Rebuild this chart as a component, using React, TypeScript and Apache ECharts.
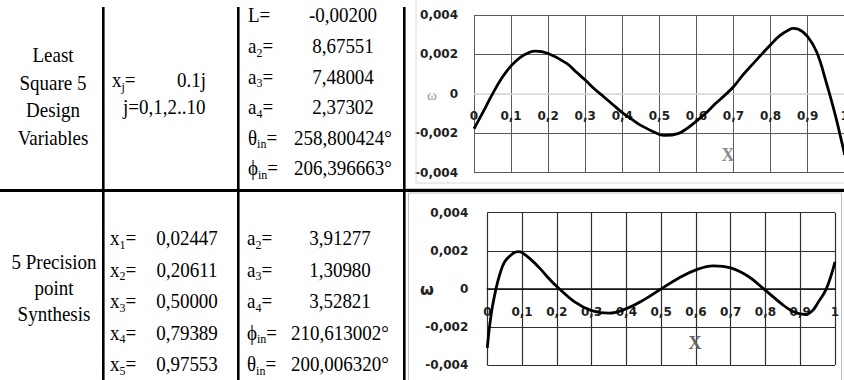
import React, { useEffect, useRef } from 'react';
import * as echarts from 'echarts';

// ---------- table texts ----------
const lsTitle = ['Least', 'Square 5', 'Design', 'Variables'];
const lsPoint = { sym: 'x', sub: 'j', value: '0.1j' };
const lsPointNote = 'j=0,1,2..10';
const lsParams = [
  { sym: 'L', sub: '', value: '-0,00200' },
  { sym: 'a', sub: '2', value: '8,67551' },
  { sym: 'a', sub: '3', value: '7,48004' },
  { sym: 'a', sub: '4', value: '2,37302' },
  { sym: 'θ', sub: 'in', value: '258,800424°' },
  { sym: 'ϕ', sub: 'in', value: '206,396663°' },
];
const ppTitle = ['5 Precision', 'point', 'Synthesis'];
const ppPoints = [
  { sym: 'x', sub: '1', value: '0,02447' },
  { sym: 'x', sub: '2', value: '0,20611' },
  { sym: 'x', sub: '3', value: '0,50000' },
  { sym: 'x', sub: '4', value: '0,79389' },
  { sym: 'x', sub: '5', value: '0,97553' },
];
const ppParams = [
  { sym: 'a', sub: '2', value: '3,91277' },
  { sym: 'a', sub: '3', value: '1,30980' },
  { sym: 'a', sub: '4', value: '3,52821' },
  { sym: 'ϕ', sub: 'in', value: '210,613002°' },
  { sym: 'θ', sub: 'in', value: '200,006320°' },
];

// ---------- chart data ----------
const yAxisName = 'ω';
const xAxisName = 'X';
const lsX = [0, 0.025, 0.05, 0.075, 0.1, 0.125, 0.15, 0.165, 0.2, 0.25, 0.275, 0.3, 0.325, 0.35, 0.375, 0.4, 0.425, 0.45, 0.5, 0.515, 0.55, 0.575, 0.6, 0.625, 0.65, 0.675, 0.7, 0.725, 0.75, 0.8, 0.825, 0.85, 0.86, 0.875, 0.9, 0.925, 0.95, 0.975, 1];
const lsW = [-0.00177, -0.0009, 0.0, 0.0008, 0.00142, 0.00185, 0.00211, 0.00217, 0.00205, 0.00155, 0.00112, 0.0007, 0.00025, -0.00015, -0.00055, -0.00095, -0.00128, -0.0016, -0.00206, -0.00211, -0.00202, -0.00175, -0.00138, -0.00098, -0.00052, -0.0001, 0.00036, 0.00095, 0.00147, 0.00249, 0.00295, 0.00325, 0.00332, 0.00328, 0.0029, 0.0021, 0.0006, -0.0011, -0.0031];
const ppX = [0, 0.005, 0.01, 0.015, 0.025, 0.035, 0.05, 0.075, 0.09, 0.1, 0.125, 0.15, 0.175, 0.2, 0.25, 0.3, 0.35, 0.4, 0.45, 0.5, 0.55, 0.6, 0.65, 0.7, 0.75, 0.8, 0.85, 0.875, 0.9, 0.915, 0.935, 0.95, 0.975, 1];
const ppW = [-0.0031, -0.0022, -0.0015, -0.0009, 0, 0.0007, 0.00142, 0.00188, 0.00196, 0.0019, 0.00155, 0.0011, 0.00058, 0.00012, -0.00067, -0.00114, -0.00128, -0.00104, -0.00058, 0, 0.00056, 0.001, 0.00121, 0.0011, 0.00066, -0.00008, -0.00084, -0.00115, -0.00132, -0.00134, -0.00115, -0.00075, 0, 0.00142];

const SERIF = '"Liberation Serif", "Times New Roman", serif';
const SANS = '"DejaVu Sans", sans-serif';
const FS = 19;
const SY = 1.12;

const fmtX = (v: number) => {
  const r = Math.round(v * 10) / 10;
  if (r === 0) return '0';
  if (r === 1) return '1';
  return r.toFixed(1).replace('.', ',');
};
const fmtY = (v: number) => {
  const r = Math.round(v * 1000) / 1000;
  if (r === 0) return '0';
  return r.toFixed(3).replace('.', ',');
};

const plain = (text: string, x: number, y: number, align = 'left') => ({
  type: 'text',
  x,
  y,
  scaleY: SY,
  z: 100,
  style: { text, fontSize: FS, fontFamily: SERIF, fill: '#000', align, verticalAlign: 'middle' },
});
const subbed = (sym: string, sub: string, x: number, y: number) => ({
  type: 'text',
  x,
  y,
  scaleY: SY,
  z: 100,
  style: {
    text: sub ? `{m|${sym}}{s|${sub}}{m|=}` : `{m|${sym}=}`,
    align: 'left',
    verticalAlign: 'middle',
    rich: {
      m: { fontSize: FS, fontFamily: SERIF, fill: '#000', lineHeight: 24 },
      s: { fontSize: 12, fontFamily: SERIF, fill: '#000', lineHeight: 14, verticalAlign: 'bottom' },
    },
  },
});

export default function App() {
  const ref = useRef<HTMLDivElement>(null);
  useEffect(() => {
    if (!ref.current) return;
    const chart = echarts.init(ref.current, undefined, { renderer: 'svg' });

    const g0 = { left: 474, top: 15, width: 370.7, height: 157.7, outerBoundsMode: 'none', containLabel: false };
    const g1 = { left: 487.3, top: 212.7, width: 347.7, height: 152.3, outerBoundsMode: 'none', containLabel: false };

    const graphics: any[] = [];
    // frames
    graphics.push({ type: 'rect', shape: { x: 416, y: -2, width: 440, height: 185 }, style: { fill: 'none', stroke: '#d9d9d9', lineWidth: 1 }, z: 1 });
    graphics.push({ type: 'line', shape: { x1: 405, y1: 188.5, x2: 844, y2: 188.5 }, style: { stroke: '#d0d0d0', lineWidth: 1 }, z: 1 });
    graphics.push({ type: 'rect', shape: { x: 408.5, y: 193, width: 433, height: 190 }, style: { fill: 'none', stroke: '#bfbfbf', lineWidth: 1 }, z: 1 });
    // table rules
    graphics.push({ type: 'rect', shape: { x: 0, y: 189, width: 844, height: 3 }, style: { fill: '#000' }, z: 110 });
    [102, 237, 403].forEach((x) => {
      graphics.push({ type: 'rect', shape: { x, y: 7, width: 2.6, height: 373 }, style: { fill: '#000' }, z: 110 });
    });

    // least squares row
    lsTitle.forEach((t, i) => graphics.push(plain(t, 53, 55 + i * 27.4, 'center')));
    graphics.push(subbed(lsPoint.sym, lsPoint.sub, 112, 80));
    graphics.push(plain(lsPoint.value, 177, 80));
    graphics.push(plain(lsPointNote, 123, 107));
    lsParams.forEach((p, i) => {
      const y = 15 + i * 30.6;
      graphics.push(subbed(p.sym, p.sub, 248, y));
      graphics.push(plain(p.value, 343, y, 'center'));
    });

    // precision point row
    ppTitle.forEach((t, i) => graphics.push(plain(t, 54, 262 + i * 26, 'center')));
    ppPoints.forEach((p, i) => {
      const y = 238 + i * 31.5;
      graphics.push(subbed(p.sym, p.sub, 110, y));
      graphics.push(plain(p.value, 187, y, 'center'));
    });
    ppParams.forEach((p, i) => {
      const y = 238 + i * 31.5;
      graphics.push(subbed(p.sym, p.sub, 247, y));
      graphics.push(plain(p.value, 340, y, 'center'));
    });

    // axis names
    graphics.push({ type: 'text', x: 432, y: 95, z: 100, style: { text: yAxisName, fontSize: 15, fontFamily: SERIF, fill: '#999', align: 'center', verticalAlign: 'middle' } });
    graphics.push({ type: 'text', x: 728, y: 155, z: 100, style: { text: xAxisName, fontSize: 18, fontWeight: 'bold', fontFamily: SERIF, fill: '#8c8c8c', align: 'center', verticalAlign: 'middle' } });
    graphics.push({ type: 'text', x: 427, y: 289, z: 100, style: { text: yAxisName, fontSize: 16, fontWeight: 'bold', fontFamily: SANS, fill: '#222', align: 'center', verticalAlign: 'middle' } });
    graphics.push({ type: 'text', x: 695, y: 343, z: 100, style: { text: xAxisName, fontSize: 18, fontWeight: 'bold', fontFamily: SERIF, fill: '#666', align: 'center', verticalAlign: 'middle' } });

    const label = { fontFamily: SANS, fontSize: 12, fontWeight: 'bold', color: '#1e1e1e' };

    chart.setOption({
      animation: false,
      backgroundColor: '#fff',
      graphic: graphics,
      grid: [g0, g1],
      xAxis: [
        {
          gridIndex: 0, type: 'value', min: 0, max: 1, interval: 0.1, position: 'bottom',
          offset: -g0.height / 2,
          axisLine: { onZero: false, lineStyle: { color: '#d9d9d9', width: 1.5 } },
          axisTick: { show: false },
          axisLabel: { ...label, margin: 16, formatter: fmtX, showMaxLabel: true, showMinLabel: true, hideOverlap: false },
          splitLine: { show: true, lineStyle: { color: '#5a5a5a', width: 1 } },
        },
        {
          gridIndex: 1, type: 'value', min: 0, max: 1, interval: 0.1, position: 'bottom',
          offset: -g1.height / 2,
          axisLine: { onZero: false, lineStyle: { color: '#111', width: 1.6 } },
          axisTick: { show: false },
          axisLabel: { ...label, margin: 17, formatter: fmtX, showMaxLabel: true, showMinLabel: true, hideOverlap: false },
          splitLine: { show: true, lineStyle: { color: '#2e2e2e', width: 1.2 } },
        },
      ],
      yAxis: [
        {
          gridIndex: 0, type: 'value', min: -0.004, max: 0.004, interval: 0.002,
          axisLine: { show: false }, axisTick: { show: false },
          axisLabel: { ...label, margin: 16, formatter: fmtY },
          splitLine: { show: true, lineStyle: { color: ['#5a5a5a', '#5a5a5a', '#d9d9d9', '#5a5a5a', '#5a5a5a'], width: 1 } },
        },
        {
          gridIndex: 1, type: 'value', min: -0.004, max: 0.004, interval: 0.002,
          axisLine: { show: false }, axisTick: { show: false },
          axisLabel: { ...label, margin: 19, formatter: fmtY },
          splitLine: { show: true, lineStyle: { color: '#2e2e2e', width: 1.2 } },
        },
      ],
      series: [
        {
          type: 'line', xAxisIndex: 0, yAxisIndex: 0, showSymbol: false, smooth: 0.4,
          lineStyle: { color: '#000', width: 2.8 },
          data: lsX.map((x, i) => [x, lsW[i]]),
        },
        {
          type: 'line', xAxisIndex: 1, yAxisIndex: 1, showSymbol: false, smooth: 0.4,
          lineStyle: { color: '#000', width: 2.8 },
          data: ppX.map((x, i) => [x, ppW[i]]),
        },
      ],
    });
    return () => chart.dispose();
  }, []);
  return (
    <div
      ref={ref}
      style={{ position: 'fixed', left: 0, top: 0, width: 844, height: 380, background: '#fff' }}
    />
  );
}
